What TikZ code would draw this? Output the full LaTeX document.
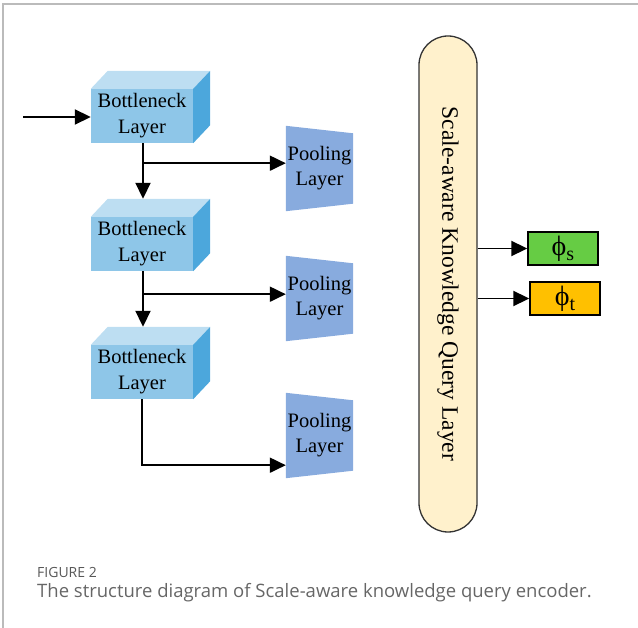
\documentclass[tikz,border=0pt]{standalone}
\usepackage{fontspec}
\setmainfont{Liberation Serif}
\newfontfamily\capfont{Open Sans}
\usetikzlibrary{calc,arrows.meta}

\definecolor{frontblue}{HTML}{8EC6E8}
\definecolor{topblue}{HTML}{BDDEF2}
\definecolor{sideblue}{HTML}{4CA7DC}
\definecolor{poolblue}{HTML}{88ABDE}
\definecolor{capsulefill}{HTML}{FFF1CC}
\definecolor{outgreen}{HTML}{66CC44}
\definecolor{outorange}{HTML}{FFC000}
\definecolor{framegray}{HTML}{BBBBBB}
\definecolor{captiongray}{HTML}{666666}

\tikzset{
  blockface/.style={fill=frontblue, draw=none, minimum width=102pt, minimum height=54pt,
    inner sep=0pt, align=center, font=\fontsize{20.5}{26}\selectfont},
  poolnode/.style={minimum width=67pt, minimum height=85pt, inner sep=0pt, align=center,
    font=\fontsize{20.5}{25}\selectfont},
  wire/.style={line width=1.9pt, draw=black},
  arrowwire/.style={wire, -{Triangle[length=16pt,width=15pt]}},
  outbox/.style={draw=black, line width=1.4pt, minimum width=70pt, minimum height=33pt,
    inner sep=0pt, font=\fontsize{28}{28}\selectfont},
}

% cuboid faces drawn around a named front-face node
\newcommand{\cuboidfaces}[1]{%
  \fill[topblue] (#1.north west) -- ($(#1.north west)+(17,-18)$) -- ($(#1.north east)+(17,-18)$) -- (#1.north east) -- cycle;
  \fill[sideblue] (#1.north east) -- ($(#1.north east)+(17,-18)$) -- ($(#1.south east)+(17,-18)$) -- (#1.south east) -- cycle;
}
% trapezoid body of a pooling node
\newcommand{\poolshape}[1]{%
  \fill[poolblue] (#1.north west) -- ($(#1.north east)+(0,7.5)$) -- ($(#1.south east)+(0,-7.5)$) -- (#1.south west) -- cycle;
}

\begin{document}
\begin{tikzpicture}[x=1pt, y=-1pt]
  \useasboundingbox (0,0) rectangle (638,628);

  % page frame
  \draw[framegray, line width=1.2pt] (3,628) -- (3,4) -- (638,4);

  % bottleneck layers
  \node[blockface] (b1) at (142,116) {Bottleneck\\Layer};
  \node[blockface] (b2) at (142,244) {Bottleneck\\Layer};
  \node[blockface] (b3) at (142,372) {Bottleneck\\Layer};
  \cuboidfaces{b1}
  \cuboidfaces{b2}
  \cuboidfaces{b3}

  % pooling layers
  \node[poolnode] (p1) at (319.5,168.5) {};
  \node[poolnode] (p2) at (319.5,298.5) {};
  \node[poolnode] (p3) at (319.5,435.5) {};
  \poolshape{p1}
  \poolshape{p2}
  \poolshape{p3}
  \node[poolnode] at (p1) {Pooling\\Layer};
  \node[poolnode] at (p2) {Pooling\\Layer};
  \node[poolnode] at (p3) {Pooling\\Layer};

  % query layer capsule
  \node[draw=black!80, line width=1.3pt, fill=capsulefill, rounded corners=29pt,
        minimum width=58pt, minimum height=496pt, inner sep=0pt] (K) at (448,284) {};
  \node[rotate=-90, font=\fontsize{23.5}{23.5}\selectfont] at (K) {Scale-aware Knowledge Query Layer};

  % outputs
  \node[outbox, fill=outgreen] (G) at (563,248.5) {ϕ\raisebox{-5pt}{\fontsize{20}{20}\selectfont s}};
  \node[outbox, fill=outorange] (O) at (565,298.5) {ϕ\raisebox{-5pt}{\fontsize{20}{20}\selectfont t}};

  % input
  \coordinate (in) at (23,117);
  \draw[arrowwire] (in) -- (in -| b1.west);

  % vertical chain with branches
  \coordinate (j1) at ($(b1.south)+(1,20)$);
  \coordinate (j2) at ($(b2.south)+(1,23)$);
  \coordinate (j3) at ($(b3.south)+(0,66)$);
  \draw[arrowwire] ($(b1.south)+(1,0)$) -- ($(b2.north)+(1,-18)$);
  \draw[arrowwire] ($(b2.south)+(1,0)$) -- ($(b3.north)+(1,-18)$);
  \draw[arrowwire] (j1) -- (j1 -| p1.west);
  \draw[arrowwire] (j2) -- (j2 -| p2.west);
  \draw[arrowwire] (b3.south) -- (j3) -- (j3 -| p3.west);

  % pooling to query layer
  \draw[wire] ($(p1.east)+(0,-2.5)$) -- ($(p1.east)+(0,-2.5)$ -| K.west);
  \draw[wire] ($(p2.east)+(0,-1.5)$) -- ($(p2.east)+(0,-1.5)$ -| K.west);
  \draw[wire] ($(p3.east)+(0,3.5)$) -- ($(p3.east)+(0,3.5)$ -| K.west);

  % query layer to outputs
  \draw[arrowwire] (G.west -| K.east) -- (G.west);
  \draw[arrowwire] (O.west -| K.east) -- (O.west);

  % caption
  \node[anchor=base west, inner sep=0pt, text=captiongray!85!black,
        font=\capfont\fontsize{14}{14}\selectfont] (fig) at (37,577) {FIGURE 2};
  \node[anchor=base west, inner sep=0pt, text=captiongray,
        font=\capfont\fontsize{18.5}{18.5}\selectfont] (cap) at (37,597)
        {The structure diagram of Scale-aware knowledge query encoder.};
\end{tikzpicture}
\end{document}
